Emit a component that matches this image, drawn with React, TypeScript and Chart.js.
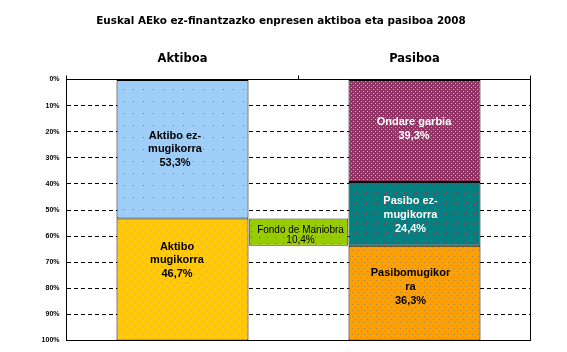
import React, { useEffect, useRef } from 'react';
import { Chart, registerables } from 'chart.js';

Chart.register(...registerables);

// ---- data ----
const titleText = 'Euskal AEko ez-finantzazko enpresen aktiboa eta pasiboa 2008';
const categories = ['Aktiboa', 'Pasiboa'];
const yTickStep = 10;
const yMin = 0;
const yMax = 100;

const aktiboEzMugikorra = [53.3, null];
const aktiboMugikorra = [46.7, null];
const ondareGarbia = [null, 39.3];
const pasiboEzMugikorra = [null, 24.4];
const pasiboMugikorra = [null, 36.3];

const fondoCategories = ['', 'Fondo de Maniobra', ''];
const fondoDeManiobra = [null, [53.3, 63.7], null];

const labelAktiboEz = ['Aktibo ez-', 'mugikorra'];
const labelAktiboMug = ['Aktibo', 'mugikorra'];
const labelOndare = ['Ondare garbia'];
const labelPasiboEz = ['Pasibo ez-', 'mugikorra'];
const labelPasiboMug = ['Pasibomugikor', 'ra'];
const labelFondo = ['Fondo de Maniobra'];

// ---- styling helpers ----
function makePattern(base: string, dot: string, w: number, h: number, dots: number[][]) {
  const c = document.createElement('canvas');
  c.width = w;
  c.height = h;
  const g = c.getContext('2d')!;
  g.fillStyle = base;
  g.fillRect(0, 0, w, h);
  g.fillStyle = dot;
  dots.forEach(([x, y]) => g.fillRect(x, y, 1, 1));
  const ctx = document.createElement('canvas').getContext('2d')!;
  return ctx.createPattern(c, 'repeat') || base;
}

const fmt = (v: number) => v.toFixed(1).replace('.', ',') + '%';

const segLabelPlugin = {
  id: 'segLabels',
  afterDatasetsDraw(chart: any) {
    const ctx = chart.ctx;
    chart.data.datasets.forEach((ds: any, di: number) => {
      const cfg = ds.segLabel;
      if (!cfg) return;
      const meta = chart.getDatasetMeta(di);
      meta.data.forEach((el: any, i: number) => {
        const raw = ds.data[i];
        if (raw == null) return;
        const v = Array.isArray(raw) ? raw[1] - raw[0] : raw;
        const lines = [...cfg.lines, fmt(v)];
        const cx = el.x + cfg.dx;
        const cy = (el.y + el.base) / 2 + cfg.dy;
        ctx.save();
        ctx.font = cfg.font;
        ctx.fillStyle = cfg.color;
        ctx.textAlign = 'center';
        ctx.textBaseline = 'middle';
        const n = lines.length;
        lines.forEach((t: string, k: number) => {
          ctx.fillText(t, cx, cy + (k - (n - 1) / 2) * cfg.lh);
        });
        ctx.restore();
      });
    });
  },
};

const frameBeforePlugin = {
  id: 'frameBefore',
  beforeDatasetsDraw(chart: any) {
    const { ctx, chartArea: a } = chart;
    ctx.save();
    ctx.strokeStyle = '#000000';
    ctx.lineWidth = 1;
    ctx.strokeRect(a.left, a.top, a.right - a.left, a.bottom - a.top);
    ctx.restore();
  },
};

export default function App() {
  const ref = useRef<HTMLCanvasElement>(null);

  useEffect(() => {
    document.body.style.margin = '0';
    const canvas = ref.current!;
    const boldLbl = 'bold 11px "Liberation Sans", Arial, sans-serif';

    const pBlue = makePattern('#9ECEF8', '#2A9AA0', 10, 12, [[3, 5]]);
    const pGold = makePattern('#FFCC00', '#F0903A', 8, 8, [[2, 2], [6, 6]]);
    const pPurple = makePattern('#933366', '#C9A3CF', 4, 4, [[1, 1], [3, 3]]);
    const pTeal = makePattern('#008080', '#7A4E58', 5, 5, [[1, 2], [4, 4]]);
    const pOrange = makePattern('#FFA000', '#A88A50', 6, 6, [[1, 1], [4, 4]]);
    const pGreen = makePattern('#99CC00', '#5A8A00', 8, 6, [[3, 3]]);

    const common = {
      borderColor: '#000000',
      borderWidth: 1,
      borderSkipped: false,
      grouped: false,
      barPercentage: 0.569,
      categoryPercentage: 1,
      xAxisID: 'x',
      yAxisID: 'y',
    };

    const chart = new Chart(canvas, {
      type: 'bar',
      data: {
        labels: categories,
        datasets: [
          {
            ...common,
            label: 'Aktibo ez-mugikorra',
            data: aktiboEzMugikorra,
            backgroundColor: pBlue,
            segLabel: { lines: labelAktiboEz, font: boldLbl, color: '#000', lh: 13.5, dx: -7.5, dy: 0 },
          },
          {
            ...common,
            label: 'Aktibo mugikorra',
            data: aktiboMugikorra,
            backgroundColor: pGold,
            segLabel: { lines: labelAktiboMug, font: boldLbl, color: '#000', lh: 13.5, dx: -5.5, dy: -19.5 },
          },
          {
            ...common,
            label: 'Ondare garbia',
            data: ondareGarbia,
            backgroundColor: pPurple,
            segLabel: { lines: labelOndare, font: boldLbl, color: '#FFFFFF', lh: 14, dx: -0.5, dy: -2 },
          },
          {
            ...common,
            label: 'Pasibo ez-mugikorra',
            data: pasiboEzMugikorra,
            backgroundColor: pTeal,
            segLabel: { lines: labelPasiboEz, font: boldLbl, color: '#FFFFFF', lh: 14, dx: -4, dy: 1 },
          },
          {
            ...common,
            label: 'Pasibo mugikorra',
            data: pasiboMugikorra,
            backgroundColor: pOrange,
            segLabel: { lines: labelPasiboMug, font: boldLbl, color: '#000', lh: 14, dx: -4, dy: -6.5 },
          },
          {
            label: 'Fondo de Maniobra',
            data: fondoDeManiobra,
            xAxisID: 'xF',
            yAxisID: 'y',
            stack: 'fondo',
            order: -1,
            grouped: false,
            backgroundColor: pGreen,
            borderColor: '#3A3A3A',
            borderWidth: 1,
            borderSkipped: false,
            barPercentage: 0.643,
            categoryPercentage: 1,
            segLabel: { lines: labelFondo, font: '10px "Liberation Sans", Arial, sans-serif', color: '#000', lh: 10, dx: 2, dy: 3.5 },
          },
        ] as any,
      },
      options: {
        animation: false,
        responsive: false,
        devicePixelRatio: 1,
        layout: { padding: { left: 31.5, right: 36.5, top: 0, bottom: 11.5 } },
        plugins: {
          legend: { display: false },
          tooltip: { enabled: false },
          title: {
            display: true,
            text: titleText,
            color: '#000000',
            font: { family: 'DejaVu Sans', size: 10.4, weight: 'bold' },
            padding: { top: 15, bottom: 0 },
          },
        },
        scales: {
          x: {
            type: 'category',
            position: 'top',
            stacked: true,
            offset: true,
            grid: { offset: true, drawOnChartArea: false, drawTicks: true, tickLength: 4, color: '#000000' },
            border: { display: true, color: '#000000' },
            ticks: {
              color: '#000000',
              font: { family: 'DejaVu Sans', size: 11.5, weight: 'bold' },
              padding: 10,
            },
            afterFit: (s: any) => { s.height = 79.5 - 27.48; },
          },
          xF: {
            type: 'category',
            labels: fondoCategories,
            position: 'bottom',
            offset: true,
            display: false,
          },
          y: {
            type: 'linear',
            position: 'left',
            stacked: true,
            reverse: true,
            min: yMin,
            max: yMax,
            ticks: {
              stepSize: yTickStep,
              callback: (v: any) => v + '%',
              color: '#000000',
              font: { family: 'Liberation Sans', size: 7, weight: 'bold' },
              padding: 7,
            },
            grid: { color: '#000000', drawTicks: false },
            border: { display: true, color: '#000000', dash: [4, 3] },
            afterFit: (s: any) => { s.width = 35; },
          },
        },
      } as any,
      plugins: [frameBeforePlugin, segLabelPlugin],
    });

    return () => chart.destroy();
  }, []);

  return <canvas ref={ref} width={567} height={352} style={{ display: 'block' }} />;
}
